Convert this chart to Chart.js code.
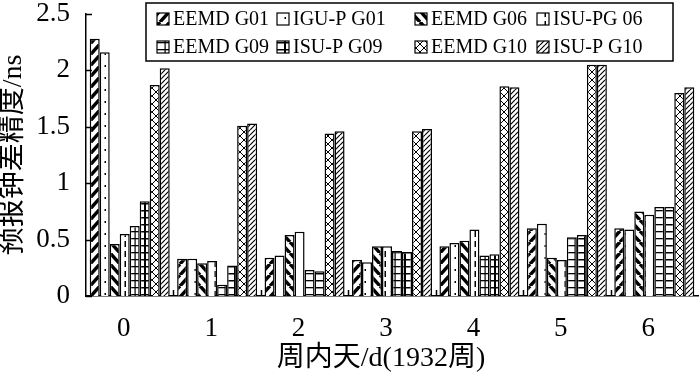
<!DOCTYPE html>
<html>
<head>
<meta charset="utf-8">
<script src="https://cdn.jsdelivr.net/npm/chart.js@4"></script>
<style>
  html, body { margin: 0; padding: 0; background: #fff; }
  #wrap { width: 700px; height: 375px; position: relative; }
</style>
</head>
<body>
<div id="wrap"><canvas id="chart"></canvas></div>
<script>
// 周内天 (1932周)
const categories = ['0', '1', '2', '3', '4', '5', '6'];
const seriesNames = ['EEMD G01', 'IGU-P G01', 'EEMD G06', 'ISU-PG 06',
                     'EEMD G09', 'ISU-P G09', 'EEMD G10', 'ISU-P G10'];

// 预报钟差精度 (ns)
const eemdG01 = [2.28, 0.33, 0.34, 0.32, 0.44, 0.60, 0.60];
const iguG01  = [2.16, 0.33, 0.36, 0.30, 0.47, 0.64, 0.59];
const eemdG06 = [0.46, 0.29, 0.54, 0.44, 0.49, 0.34, 0.75];
const isuG06  = [0.55, 0.31, 0.57, 0.44, 0.59, 0.32, 0.72];
const eemdG09 = [0.62, 0.10, 0.23, 0.40, 0.36, 0.52, 0.79];
const isuG09  = [0.84, 0.27, 0.22, 0.39, 0.37, 0.54, 0.79];
const eemdG10 = [1.87, 1.51, 1.44, 1.46, 1.86, 2.05, 1.80];
const isuG10  = [2.02, 1.53, 1.46, 1.48, 1.85, 2.05, 1.85];

const yTicks = [0, 0.5, 1, 1.5, 2, 2.5];
const yTickLabels = ['0', '0.5', '1', '1.5', '2', '2.5'];
const xTitle = '周内天/d(1932周)';

const seriesValues = [eemdG01, iguG01, eemdG06, isuG06, eemdG09, isuG09, eemdG10, isuG10];

const FONT = "'Liberation Serif', 'Noto Sans CJK SC', serif";

// hatch fills, drawn on small tiles
function makePattern(w, h, draw) {
  const c = document.createElement('canvas');
  c.width = w; c.height = h;
  const g = c.getContext('2d');
  g.fillStyle = '#fff';
  g.fillRect(0, 0, w, h);
  g.fillStyle = '#000';
  g.strokeStyle = '#000';
  draw(g, w, h);
  return g.createPattern(c, 'repeat');
}

function diag(g, w, h, lw, up) {
  g.lineWidth = lw;
  g.beginPath();
  for (let k = -w; k <= w; k += w) {
    if (up) { g.moveTo(k, h); g.lineTo(k + w, 0); }
    else { g.moveTo(k, 0); g.lineTo(k + w, h); }
  }
  g.stroke();
}

const patterns = [
  makePattern(10, 11, (g, w, h) => diag(g, w, h, 3.5, true)),
  makePattern(10, 12, g => g.fillRect(4.5, 5, 1.5, 2)),
  makePattern(10, 11, (g, w, h) => diag(g, w, h, 3.5, false)),
  makePattern(10, 10, g => g.fillRect(4.5, 1, 1.5, 6)),
  makePattern(10, 7, g => { g.fillRect(0, 0, 10, 1.3); g.fillRect(4.5, 0, 1.2, 7); }),
  makePattern(10, 7, g => { g.fillRect(0, 0, 10, 1.5); g.fillRect(4, 0, 2, 7); }),
  makePattern(8, 8, (g, w, h) => { diag(g, w, h, 1, true); diag(g, w, h, 1, false); }),
  makePattern(5, 5, (g, w, h) => diag(g, w, h, 1.2, true))
];

const decor = {
  id: 'decor',
  afterDraw(chart) {
    const { ctx, chartArea, scales } = chart;
    ctx.save();
    ctx.strokeStyle = '#000';
    ctx.lineWidth = 1.5;
    // inward ticks
    ctx.beginPath();
    yTicks.forEach(v => {
      const y = Math.round(scales.y.getPixelForValue(v)) + 0.5;
      ctx.moveTo(chartArea.left, y);
      ctx.lineTo(chartArea.left + 6, y);
    });
    for (let i = 1; i < categories.length; i++) {
      const x = Math.round((scales.x.getPixelForValue(i - 1) + scales.x.getPixelForValue(i)) / 2) + 0.5;
      ctx.moveTo(x, chartArea.bottom);
      ctx.lineTo(x, chartArea.bottom - 6);
    }
    ctx.stroke();

    // x axis title, a bit left of centre as in the original
    ctx.fillStyle = '#000';
    ctx.font = '28px ' + FONT;
    ctx.textAlign = 'center';
    ctx.textBaseline = 'middle';
    ctx.fillText(xTitle, 381, 359);

    // legend box
    const bx = 146, by = 3, bw = 527, bh = 58;
    ctx.fillStyle = '#fff';
    ctx.fillRect(bx, by, bw, bh);
    ctx.strokeRect(bx, by, bw, bh);
    const colX = [157, 277, 415, 537];
    const rowY = [19, 47];
    ctx.font = '20px ' + FONT;
    ctx.textAlign = 'left';
    seriesNames.forEach((name, i) => {
      const x = colX[i % 4], y = rowY[Math.floor(i / 4)];
      ctx.fillStyle = patterns[i];
      ctx.fillRect(x, y - 6, 12, 12);
      ctx.lineWidth = 1.2;
      ctx.strokeRect(x, y - 6, 12, 12);
      ctx.fillStyle = '#000';
      ctx.fillText(name, x + 16, y + 1);
    });
    ctx.restore();
  }
};

new Chart(document.getElementById('chart'), {
  type: 'bar',
  data: {
    labels: categories,
    datasets: seriesNames.map((name, i) => ({
      label: name,
      data: seriesValues[i],
      backgroundColor: patterns[i],
      borderColor: '#000',
      borderWidth: 1.5,
      barPercentage: 1,
      categoryPercentage: 0.915
    }))
  },
  options: {
    responsive: true,
    maintainAspectRatio: false,
    animation: false,
    layout: { padding: { top: 14, right: 2, left: 0, bottom: 0 } },
    plugins: {
      legend: { display: false },
      tooltip: { enabled: false }
    },
    scales: {
      x: {
        grid: { display: false },
        border: { color: '#000', width: 1.5 },
        ticks: { color: '#000', font: { family: FONT, size: 27, lineHeight: 1.2 }, padding: 9, labelOffset: -6 },
        afterFit: s => { s.height = 79; }
      },
      y: {
        min: 0,
        max: 2.5,
        afterBuildTicks: s => { s.ticks = yTicks.map(v => ({ value: v })); },
        grid: { display: false },
        border: { color: '#000', width: 1.5 },
        ticks: {
          color: '#000', font: { family: FONT, size: 27, lineHeight: 1 }, padding: 8,
          callback: (v, i) => yTickLabels[i]
        },
        title: {
          display: true, text: '预报钟差精度/ns', color: '#000',
          font: { family: FONT, size: 28, lineHeight: 1 }, padding: 0
        },
        afterFit: s => { s.width = 86; s.paddingTop = 0; s.paddingBottom = 0; }
      }
    }
  },
  plugins: [decor]
});
</script>
</body>
</html>
